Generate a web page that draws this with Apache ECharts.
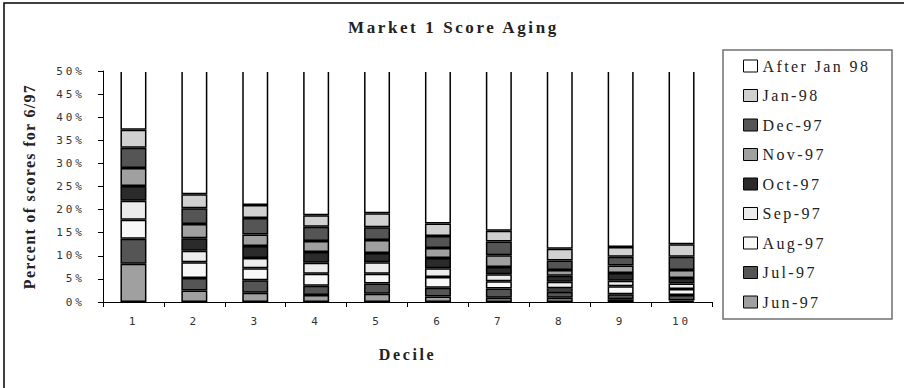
<!DOCTYPE html>
<html>
<head>
<meta charset="utf-8">
<script src="https://cdn.jsdelivr.net/npm/echarts@6/dist/echarts.min.js"></script>
<style>
  html, body { margin: 0; padding: 0; background: #fff; }
  #chart { width: 904px; height: 388px; }
  #chart text[style*="Mono"] { letter-spacing: 3px; }
  #chart text[style*="bold"] { letter-spacing: 2.6px; }
  #chart text[style*="Times"] { letter-spacing: 1.3px; }
  #chart text[style*="Serif"]:not([style*="bold"]) { letter-spacing: 2.4px; }
</style>
</head>
<body>
<div id="chart"></div>
<script>
// ---- data (percent of scores for 6/97, per decile) ----
const deciles = ['1', '2', '3', '4', '5', '6', '7', '8', '9', '10'];
const jun97 = [8.3, 2.5, 2.0, 1.5, 1.8, 1.2, 0.9, 0.9, 0.6, 0.3];
const jul97 = [5.4, 2.7, 2.7, 2.0, 2.2, 1.9, 2.0, 1.3, 1.1, 1.2];
const aug97 = [4.1, 3.4, 2.6, 2.6, 2.1, 2.3, 1.6, 0.8, 1.7, 1.3];
const sep97 = [4.1, 2.5, 2.2, 2.4, 2.5, 1.9, 1.5, 1.4, 1.2, 1.2];
const oct97 = [3.2, 2.7, 2.6, 2.3, 2.0, 2.2, 1.6, 1.3, 1.7, 1.2];
const nov97 = [3.9, 3.1, 2.5, 2.4, 2.8, 2.2, 2.5, 1.2, 1.6, 1.7];
const dec97 = [4.4, 3.4, 3.6, 3.1, 2.8, 2.6, 3.0, 2.1, 1.9, 2.9];
const jan98 = [3.9, 3.0, 2.8, 2.5, 3.0, 2.7, 2.3, 2.5, 2.1, 2.7];
const afterJan98 = [62.7, 76.7, 79.0, 81.2, 80.8, 83.0, 84.6, 88.5, 88.1, 87.5];
const yMin = 0, yMax = 50, yStep = 5;

const seriesDefs = [
  { name: 'Jun-97', data: jun97, color: '#a0a0a0' },
  { name: 'Jul-97', data: jul97, color: '#555555' },
  { name: 'Aug-97', data: aug97, color: '#f8f8f8' },
  { name: 'Sep-97', data: sep97, color: '#ececec' },
  { name: 'Oct-97', data: oct97, color: '#2b2b2b' },
  { name: 'Nov-97', data: nov97, color: '#a0a0a0' },
  { name: 'Dec-97', data: dec97, color: '#555555' },
  { name: 'Jan-98', data: jan98, color: '#d0d0d0' },
  { name: 'After Jan 98', data: afterJan98, color: '#ffffff' }
];

const serif = 'Liberation Serif';
const mono = 'DejaVu Sans Mono';

const chart = echarts.init(document.getElementById('chart'), null, { renderer: 'svg' });
chart.setOption({
  animation: false,
  backgroundColor: '#ffffff',
  title: {
    text: 'Market 1 Score Aging',
    left: 343,
    top: 14,
    textStyle: { fontFamily: serif, fontWeight: 'bold', fontSize: 17, color: '#222' }
  },
  legend: {
    orient: 'vertical',
    left: 743,
    top: 58,
    padding: 0,
    itemWidth: 14,
    itemHeight: 12,
    itemGap: 13.5,
    icon: 'rect',
    data: seriesDefs.map(s => s.name).reverse(),
    textStyle: { fontFamily: serif, fontSize: 16, lineHeight: 16, color: '#222' },
    itemStyle: { borderColor: '#000', borderWidth: 1 }
  },
  grid: { left: 103, right: 192, top: 71, bottom: 86 },
  xAxis: {
    type: 'category',
    data: deciles,
    name: 'Decile',
    nameLocation: 'middle',
    nameGap: 44,
    nameTextStyle: { fontFamily: serif, fontWeight: 'bold', fontSize: 16, color: '#222' },
    axisLine: { lineStyle: { color: '#000', width: 1 } },
    axisTick: { show: true, length: 5, lineStyle: { color: '#000' } },
    axisLabel: { fontFamily: mono, fontSize: 11, color: '#333', margin: 14 }
  },
  yAxis: {
    type: 'value',
    min: yMin,
    max: yMax,
    interval: yStep,
    name: 'Percent of scores for 6/97',
    nameLocation: 'middle',
    nameRotate: 90,
    nameGap: 66,
    nameTextStyle: { fontFamily: 'Times New Roman', fontWeight: 'bold', fontSize: 16, color: '#222' },
    axisLine: { show: true, lineStyle: { color: '#000', width: 1 } },
    axisTick: { show: true, length: 5, lineStyle: { color: '#000' } },
    splitLine: { show: false },
    axisLabel: { formatter: '{value}%', fontFamily: mono, fontSize: 11, color: '#333', margin: 18 }
  },
  graphic: [
    { type: 'rect', z: 100, shape: { x: 104, y: 64, width: 607, height: 8 }, style: { fill: '#ffffff' }, silent: true },
    { type: 'rect', shape: { x: 4, y: 3, width: 940, height: 420 }, style: { fill: 'none', stroke: '#000', lineWidth: 1.5 }, silent: true },
    { type: 'rect', shape: { x: 723, y: 50, width: 169, height: 269 }, style: { fill: 'none', stroke: '#707070', lineWidth: 1.5 }, silent: true }
  ],
  series: seriesDefs.map(s => ({
    name: s.name,
    type: 'bar',
    stack: 'total',
    barWidth: 26,
    data: s.data,
    itemStyle: { color: s.color, borderColor: '#000', borderWidth: 1.5 },
    emphasis: { disabled: true }
  }))
});
</script>
</body>
</html>
